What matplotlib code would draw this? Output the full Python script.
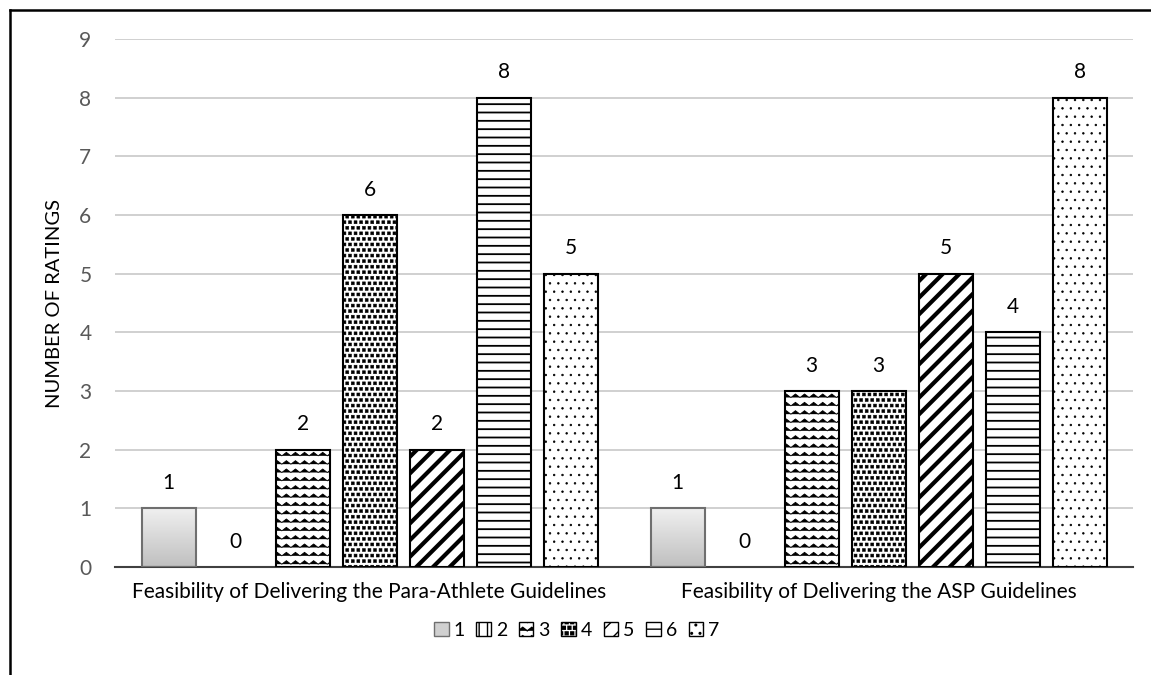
import warnings
import numpy as np
import matplotlib
matplotlib.use("Agg")
import matplotlib.pyplot as plt
import matplotlib.hatch as mhatch
from matplotlib.path import Path
from matplotlib.patches import Patch
from matplotlib.lines import Line2D

warnings.filterwarnings("ignore")

categories = ["Feasibility of Delivering the Para-Athlete Guidelines",
              "Feasibility of Delivering the ASP Guidelines"]
ratings = ["1", "2", "3", "4", "5", "6", "7"]
para_athlete = [1, 0, 2, 6, 2, 8, 5]
asp = [1, 0, 3, 3, 5, 4, 8]
yticks = list(range(10))


# extra hatch styles: zigzag ('z') and small filled squares ('q')
class ZigzagHatch(mhatch.HatchPatternBase):
    def __init__(self, hatch, density):
        self.num_lines = hatch.count('z') * density
        self.teeth = self.num_lines - 1
        self.num_vertices = self.num_lines * (2 * self.teeth + 1) if self.num_lines else 0

    def set_vertices_and_codes(self, vertices, codes):
        if self.num_lines == 0:
            return
        step = 1.0 / self.num_lines
        n = 2 * self.teeth + 1
        xs = np.linspace(0.0, 1.0, n)
        amp = np.tile([0.0, 0.42 * step], self.teeth + 1)[:n]
        for i in range(self.num_lines):
            y0 = i * step + step * 0.3
            vertices[i * n:(i + 1) * n, 0] = xs
            vertices[i * n:(i + 1) * n, 1] = y0 + amp
            codes[i * n] = Path.MOVETO
            codes[i * n + 1:(i + 1) * n] = Path.LINETO


class SquareHatch(mhatch.Shapes):
    size = 0.26
    filled = True
    shape_vertices = np.array([[-1, -1], [1, -1], [1, 1], [-1, 1], [-1, -1]], float)
    shape_codes = np.array([Path.MOVETO, Path.LINETO, Path.LINETO,
                            Path.LINETO, Path.CLOSEPOLY], dtype=Path.code_type)

    def __init__(self, hatch, density):
        self.num_rows = hatch.count('q') * density
        super().__init__(hatch, density)


mhatch._hatch_types.append(ZigzagHatch)
mhatch._hatch_types.append(SquareHatch)

plt.rcParams['font.family'] = ['Lato', 'DejaVu Sans']
FS = 15

hatches = [None, '||', 'zz', 'qqq', '//', '--', '..']
hatch_lw = [1, 1, 0.6, 0.4, 3.0, 1.3, 0.5]

fig = plt.figure(figsize=(11.51, 6.75), dpi=100)
ax = fig.add_axes([0.1, 0.16, 0.8845, 0.7822])

x = np.arange(len(categories))
slot = 0.1316
width = 0.106
series = np.array([para_athlete, asp])

for j, r in enumerate(ratings):
    offs = (j - 3) * slot
    vals = series[:, j]
    if j == 0:
        bars = ax.bar(x + offs, vals, width, facecolor='none', edgecolor='#6f6f6f',
                      linewidth=1.5, zorder=3)
        grad = np.linspace(0.94, 0.75, 100).reshape(-1, 1)
        for b in bars:
            im = ax.imshow(np.dstack([grad, grad, grad]), aspect='auto', zorder=2.5,
                           extent=[b.get_x(), b.get_x() + b.get_width(), 0, b.get_height()])
            im.set_clip_path(b)
    else:
        bars = ax.bar(x + offs, vals, width, facecolor='white', edgecolor='black',
                      linewidth=1.5, hatch=hatches[j], zorder=3)
        for b in bars:
            if hasattr(b, 'set_hatch_linewidth'):
                b.set_hatch_linewidth(hatch_lw[j])
    for b, v in zip(bars, vals):
        if v == 0:
            b.set_visible(False)
    for xi, v in zip(x + offs, vals):
        ax.annotate(str(v), (xi, v), xytext=(0, 11), textcoords='offset points',
                    ha='center', va='bottom', fontsize=FS, color='black')

ax.set_xlim(-0.5, 1.5)
ax.set_ylim(0, 9)
ax.set_yticks(yticks)
ax.set_xticks(x)
ax.set_xticklabels(categories, fontsize=FS, color='black')
ax.tick_params(axis='y', length=0, pad=17, labelsize=FS, labelcolor='#595959')
ax.tick_params(axis='x', length=0, pad=11)
ax.grid(axis='y', color='#d0d0d0', linewidth=1.4, zorder=0)
ax.set_axisbelow(True)
for s in ['top', 'right', 'left']:
    ax.spines[s].set_visible(False)
ax.spines['bottom'].set_color('#404040')
ax.spines['bottom'].set_linewidth(1.5)
ax.set_ylabel('NUMBER OF RATINGS', fontsize=FS - 0.5, color='black', labelpad=12)

handles = []
for j, r in enumerate(ratings):
    if j == 0:
        handles.append(Patch(facecolor='#d0d0d0', edgecolor='#6f6f6f', label=r))
    else:
        handles.append(Patch(facecolor='white', edgecolor='black', hatch=hatches[j], label=r))
fig.legend(handles=handles, loc='center', bbox_to_anchor=(0.501, 1 - 630 / 675), ncol=7,
           frameon=False, fontsize=14, handlelength=0.75, handleheight=0.75,
           handletextpad=0.25, columnspacing=0.6)

# chart border (left and top)
fig.add_artist(Line2D([10 / 1151, 10 / 1151], [0, 1 - 10 / 675], color='black', linewidth=1.8))
fig.add_artist(Line2D([10 / 1151, 1], [1 - 10 / 675, 1 - 10 / 675], color='black', linewidth=1.8))

fig.savefig('out.png', dpi=100)
